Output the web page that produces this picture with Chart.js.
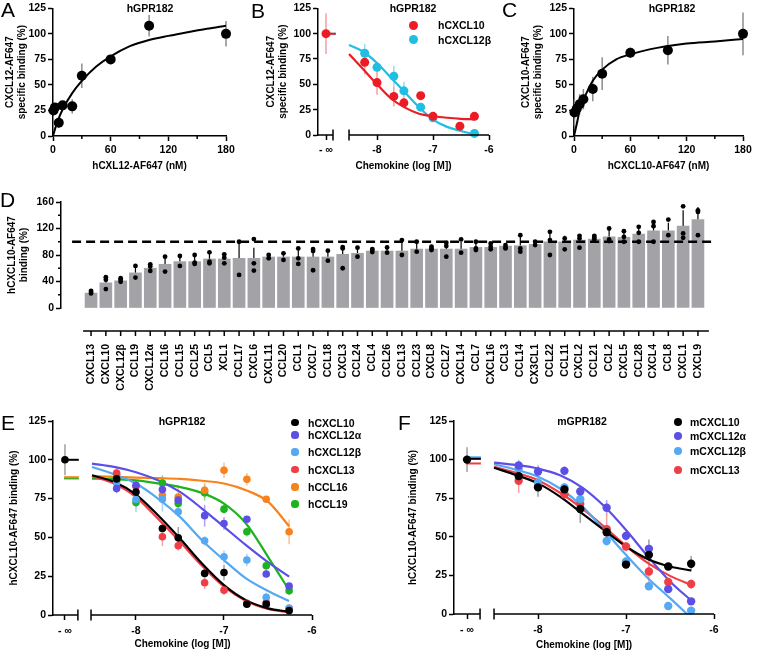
<!DOCTYPE html>
<html>
<head>
<meta charset="utf-8">
<title>GPR182 chemokine binding</title>
<script src="https://cdn.jsdelivr.net/npm/chart.js@4.4.1/dist/chart.umd.min.js"></script>
<style>
  html, body { margin: 0; padding: 0; background: #fff; }
  #fig { position: relative; width: 757px; height: 651px; overflow: hidden;
         font-family: "Liberation Sans", Arial, Helvetica, sans-serif; color: #000; }
  #fig canvas { position: absolute; left: 0; top: 0; }
  .t { position: absolute; font-weight: bold; line-height: 1.2; white-space: nowrap; }
  .letter { position: absolute; font-size: 21px; line-height: 21px; }
  .dot { position: absolute; border-radius: 50%; }
</style>
</head>
<body>
<div id="fig"></div>
<script>
// ---------- data ----------
// A: hCXCL12-AF647 saturation (nM vs % specific binding)
const aConc = [0.5, 2, 6, 10, 20, 30, 60, 100, 180];
const aBinding = [25, 28, 13, 30, 29, 59, 75, 108, 100];
const aSd = [3, 3, 5, 4, 7, 12, 4, 10.5, 12.5];
const aFitConc = [0, 2, 5, 10, 20, 30, 45, 60, 80, 100, 120, 140, 160, 180];
const aFitBinding = [0, 6.5, 15, 26, 42, 54, 68, 78, 88, 94, 98, 101.5, 105, 108];

// C: hCXCL10-AF647 saturation
const cConc = [0.5, 3, 6, 10, 20, 30, 60, 100, 180];
const cBinding = [23, 27, 31, 36, 46, 61, 81.5, 84, 100];
const cSd = [13, 8, 10, 10, 12, 16, 5, 14, 21];
const cFitConc = [0, 3, 6, 10, 20, 30, 45, 60, 90, 120, 150, 180];
const cFitBinding = [0, 12, 25, 35, 54, 65, 75, 80, 86.5, 90.5, 92.6, 95];

// shared competition concentrations (log M) and fit grid
const logConc = [-8.22, -8, -7.7, -7.52, -7.22, -7, -6.74, -6.52, -6.26];
const fitLog = [-8.5, -8.25, -8, -7.75, -7.5, -7.25, -7, -6.75, -6.5, -6.26];
const doseTickLabels = ['- \u221e', '-8', '-7', '-6'];
const doseTicks = [-8, -7, -6];

// B: competition of CXCL12-AF647
const bNames = ['hCXCL10', 'hCXCL12\u03b2'];
const bCxcl10 = [71.7, 51.7, 38.1, 31.7, 38.8, 18.4, null, 8.7, 18.4];
const bCxcl10Sd = [12, 12, 10, 3, 3, 3, 0, 3, 3];
const bCxcl12b = [80.7, 66.8, 58, 43.6, 27.5, 17, null, null, 1.6];
const bCxcl12bSd = [9, 5, 10, 9, 3, 3, 0, 0, 2];
const bFitCxcl10 = [80, 65, 50, 36, 27, 21, 18.5, 17, 16, 15.5];
const bFitCxcl12b = [88.8, 82.4, 71, 56.5, 42, 27.5, 15.2, 8, 3.9, 0.6];
const bInfLevel = [100, 100];
const bInfPoint = 100, bInfSd = 20;

// D: CXCL10-AF647 binding after chemokine panel
const dCategories = ['CXCL13','CXCL10','CXCL12\u03b2','CCL19','CXCL12\u03b1','CCL16','CCL15','CCL25','CCL5','XCL1',
  'CCL17','CXCL6','CXCL11','CCL20','CCL1','CXCL7','CCL18','CXCL3','CCL24','CCL4',
  'CCL26','CCL13','CCL23','CXCL8','CCL27','CXCL14','CCL7','CXCL16','CCL3','CCL14',
  'CX3CL1','CCL22','CCL11','CXCL2','CCL21','CCL2','CXCL5','CCL28','CXCL4','CCL8','CXCL1','CXCL9'];
const dMean = [22.5, 38, 41, 53, 60, 66, 70, 70, 74, 74, 75, 75, 77, 77, 77, 77, 77, 81, 82.5, 86,
  86, 86, 89, 89, 89, 89, 91.5, 91.5, 93.5, 94, 96, 100, 100, 102.5, 104, 107.5, 106.5, 111.5, 116.5, 116.5, 123.5, 133.5];
const dSd = [2, 8.5, 3, 10.5, 5, 11, 8, 7, 9, 6, 25, 16, 3, 5, 12, 13, 8, 14, 7, 2,
  5, 12, 8, 3, 11, 11, 6, 5, 2, 14, 3, 17, 9, 9, 3, 10, 8, 11, 15, 12, 24, 19];
const dReplicates = [
  [26, 24, 22], [46.5, 42.5, 28.5], [45, 42.5, 39.5], [63.5, 46], [66, 62.5, 56],
  [77.5, 55], [78.5, 63.5], [80, 68.5, 66.5], [84, 70, 67.5], [81, 76, 67.5],
  [100, 50], [104, 67.5, 56.5], [80, 75], [82.5, 72.5], [90, 75, 66.5],
  [89, 86, 57], [86.5, 71.5], [92, 90, 60], [91, 77.5], [89, 87.5, 84.5],
  [91.5, 83.5], [102.5, 80], [100, 85], [92.5, 90, 87.5], [98.5, 93.5, 77.5],
  [103.5, 83.5], [100, 90, 87.5], [97.5, 92.5, 88.5], [95, 91.5, 90], [110, 90, 85],
  [100, 95], [115, 102.5, 80], [105, 88.5], [109, 105, 91], [109, 106.5, 103.5],
  [120, 103.5, 101], [116, 107.5, 100], [122.5, 113.5, 100], [130, 123.5, 100], [133.5, 110],
  [153.5, 112.5, 106], [147.5, 145, 110]
];
const dReference = 100;

// E: hGPR182 competition
const eNames = ['hCXCL10', 'hCXCL12\u03b1', 'hCXCL12\u03b2', 'hCXCL13', 'hCCL16', 'hCCL19'];
const eCxcl10 = [87.7, 79.3, 55.7, 49.7, 26.8, 27.4, 7, 7, 2.8];
const eCxcl12a = [81.5, 83.6, 80.8, 74, 64, 59, 61.7, 26.4, 18.6];
const eCxcl12b = [85, 74.4, 74.6, 66.5, 47.8, 37.5, 35.4, 11.4, 4.3];
const eCxcl13 = [91.5, 83, 50.4, 44.6, 20.8, 16, 7.5, 8, 4.3];
const eCcl16 = [90.7, null, 77.2, 76, 80.4, 93.3, 87.5, 74.6, 53.6];
const eCcl19 = [86.8, 72.5, 85, 71.8, 78.7, 68.2, 53.6, 31.7, 15.7];
const eSd = [
  [3, 4, 4, 7, 4, 5, 2, 2, 2], [3, 3, 3, 3, 7, 4, 2, 2, 2], [3, 8, 8, 3, 3, 4, 4, 3, 2],
  [3, 3, 6, 3, 4, 3, 2, 2, 2], [5, 0, 5, 8, 5, 5, 4, 2, 8], [3, 3, 5, 3, 5, 3, 3, 3, 3]
];
const eFitCxcl10 = [90, 85.8, 77.6, 64.3, 49.3, 33.2, 19.3, 9.6, 4.3, 2.1];
const eFitCxcl12a = [97.5, 95.4, 92, 86.8, 79.3, 68.6, 56.8, 45, 34, 24.7];
const eFitCxcl12b = [95.4, 90.7, 84.7, 75, 63.2, 48.2, 35.4, 23.6, 15.5, 9];
const eFitCxcl13 = [89.4, 84.7, 76, 62, 47.2, 31.7, 18.2, 9, 3.9, 1.7];
const eFitCcl16 = [89.4, 89, 88.5, 88.2, 87.7, 86.5, 84.7, 80.4, 73, 57.2];
const eFitCcl19 = [87.9, 87.5, 86.8, 84.8, 82.5, 78.7, 71.8, 59, 37.5, 16];
const eInfLevel = [100, null, null, null, 88.8, 88];
const eInfPoint = 100, eInfSd = 10;

// F: mGPR182 competition
const fNames = ['mCXCL10', 'mCXCL12\u03b1', 'mCXCL12\u03b2', 'mCXCL13'];
const fCxcl10 = [89.3, 82, 80.7, 68, 52.9, 32, 38.3, 30.8, 32.5];
const fCxcl12a = [96.2, 92.3, 92.7, 79.4, 68.8, 50.6, 42.2, 16.1, 8.2];
const fCxcl12b = [94, 85, 82, 74.4, 47.3, 34, 18, 5.2, 2.2];
const fCxcl13 = [86.3, 82.8, 77.5, 71.2, 55, 43.7, 27.5, 20.7, 19.4];
const fSd = [
  [3, 6, 2, 9, 3, 2, 10, 2, 5], [3, 4, 3, 3, 5, 3, 3, 2, 2],
  [6, 3, 3, 5, 3, 3, 2, 2, 2], [8, 3, 3, 5, 10, 3, 8, 3, 3]
];
const fFitCxcl10 = [94.7, 90, 84.6, 76, 65.2, 54.4, 43.7, 35.5, 30.8, 28.2];
const fFitCxcl12a = [98.1, 96.5, 94.2, 89.9, 82, 69.9, 54.4, 37.2, 21.1, 8.8];
const fFitCxcl12b = [97, 93.5, 88.9, 81.3, 69.9, 54.4, 38.3, 23.2, 10.3, -2.5];
const fFitCxcl13 = [95.3, 91.5, 86.7, 78.5, 68.4, 56.6, 44.1, 32.9, 24.7, 18.9];
const fInfLevel = [100.5, null, 101.5, 97.5];
const fInfPoint = 100, fInfSd = 8;

// ---------- styling ----------
const W = 757, H = 651, AXIS_W = 1.5;
const eColors = ['#000000', '#5b4fe6', '#55a9f2', '#ef3e46', '#f8821c', '#1db31d'];
const eTints = ['#a0a0a0', '#aaa3f2', '#a9d3f8', '#f6a3a6', '#fbc28e', '#8ed68e'];
const fColors = ['#000000', '#5b4fe6', '#55a9f2', '#ef3e46'];
const fTints = ['#a0a0a0', '#aaa3f2', '#a9d3f8', '#f6a3a6'];
const bColors = ['#ed1c24', '#20bfe2'];
const bTints = ['#f49ea2', '#93dcef'];

// axis geometry in data units (broken log axes)
const bAxis = { min: -9.054, negInf: -8.911, breakL: -8.786, breakR: -8.5, max: -6, ext: 0.05 };
const eAxis = { min: -8.943, negInf: -8.807, breakL: -8.66, breakR: -8.511, max: -6, ext: 0.01 };
const fAxis = { min: -8.955, negInf: -8.807, breakL: -8.659, breakR: -8.5, max: -6, ext: 0.01 };
const dAxis = { min: -2.03, max: 41.95, lineStart: -0.54, lineEnd: 41.74, dashStart: -1.28 };

Chart.defaults.font.family = '"Liberation Sans", Arial, Helvetica, sans-serif';
Chart.defaults.font.weight = 'bold';
Chart.defaults.font.size = 10.5;
Chart.defaults.color = '#000';
Chart.defaults.animation = false;
Chart.defaults.responsive = false;
Chart.defaults.devicePixelRatio = 1;
Chart.defaults.plugins.legend.display = false;
Chart.defaults.plugins.tooltip.enabled = false;

const fig = document.getElementById('fig');
function makeCanvas() {
  const c = document.createElement('canvas');
  c.width = W; c.height = H;
  fig.appendChild(c);
  return c;
}

// vertical SD lines, drawn beneath the marks
const errorBars = {
  id: 'errorBars',
  beforeDatasetsDraw(chart) {
    const { ctx, scales: { x, y } } = chart;
    chart.data.datasets.forEach(ds => {
      if (!ds.sdColor) return;
      ctx.save();
      ctx.strokeStyle = ds.sdColor;
      ctx.lineWidth = ds.sdWidth || 1.5;
      ds.data.forEach(p => {
        if (!p.sd) return;
        const px = x.getPixelForValue(p.x);
        ctx.beginPath();
        ctx.moveTo(px, y.getPixelForValue(ds.sdUpOnly ? p.y : p.y - p.sd));
        ctx.lineTo(px, y.getPixelForValue(p.y + p.sd));
        ctx.stroke();
      });
      ctx.restore();
    });
  }
};

// Prism style extras: broken x axis, offset category axis, minor ticks
const prismAxes = {
  id: 'prismAxes',
  afterDraw(chart, args, o) {
    const { ctx, chartArea: a, scales: { x, y } } = chart;
    const line = (x0, y0, x1, y1) => { ctx.beginPath(); ctx.moveTo(x0, y0); ctx.lineTo(x1, y1); ctx.stroke(); };
    const yb = a.bottom + (o.xOffset || 0);
    ctx.save();
    ctx.strokeStyle = '#000';
    ctx.lineWidth = AXIS_W;
    (o.segments || []).forEach(([s, e]) => line(x.getPixelForValue(s), yb, x.getPixelForValue(e), yb));
    (o.breaks || []).forEach(v => { const px = x.getPixelForValue(v); line(px, yb - 5.5, px, yb + 5.5); });
    (o.ticks || []).forEach(v => { const px = x.getPixelForValue(v); line(px, yb, px, yb + 5); });
    (o.xMinor || []).forEach(v => { const px = x.getPixelForValue(v); line(px, a.bottom, px, a.bottom + 3); });
    (o.yMinor || []).forEach(v => { const py = y.getPixelForValue(v); line(a.left - 3, py, a.left, py); });
    ctx.restore();
  }
};

function pts(xs, ys, sds) {
  return xs.map((x, i) => ({ x, y: ys[i], sd: sds ? sds[i] : 0 })).filter(p => p.y != null);
}
function pointSet(xs, ys, sds, color, tint, r) {
  return { data: pts(xs, ys, sds), showLine: false, pointRadius: r, pointBackgroundColor: color,
    pointBorderWidth: 0, sdColor: tint, clip: false, order: 0 };
}
function curveSet(xs, ys, color, w) {
  return { data: pts(xs, ys), showLine: true, pointRadius: 0, borderColor: color, borderWidth: w,
    cubicInterpolationMode: 'monotone', order: 1 };
}
function infSet(axis, level, color) {
  return curveSet([axis.negInf - axis.ext, axis.breakL + axis.ext], [level, level], color, 2);
}

function padding(area, yW, xH) {
  return { left: area.l - yW, top: area.t, right: W - area.r, bottom: H - area.b - xH };
}
function yAxis(min, max, step, title, width) {
  return {
    type: 'linear', min, max,
    ticks: { stepSize: step, padding: 2 },
    grid: { drawOnChartArea: false, tickLength: 5, tickWidth: AXIS_W, tickColor: '#000' },
    border: { color: '#000', width: AXIS_W },
    title: { display: true, text: title, padding: 0, font: { size: 10, lineHeight: 1.2 } },
    afterFit: s => { s.width = width; }
  };
}
function xAxis({ min, max, step, ticks, labels, title, height, pad, border = true }) {
  const s = {
    type: 'linear', min, max,
    ticks: { padding: pad, autoSkip: false, maxRotation: 0 },
    grid: { drawOnChartArea: false, tickLength: 5, tickWidth: AXIS_W, tickColor: '#000' },
    border: { display: border, color: '#000', width: AXIS_W },
    title: { display: true, text: title, padding: 0, font: { size: 10, lineHeight: 1.2 } },
    afterFit: sc => { sc.height = height; }
  };
  if (step) s.ticks.stepSize = step;
  if (ticks) {
    s.afterBuildTicks = sc => { sc.ticks = ticks.map(v => ({ value: v })); };
    s.ticks.callback = (v, i) => labels[i];
  }
  return s;
}
function panel(area, yW, xH, datasets, x, y, prism) {
  new Chart(makeCanvas(), {
    type: 'scatter',
    data: { datasets },
    options: { layout: { padding: padding(area, yW, xH) }, scales: { x, y }, plugins: { prismAxes: prism } },
    plugins: [errorBars, prismAxes]
  });
}
function brokenX(axis, title, height, pad) {
  return xAxis({ min: axis.min, max: axis.max, ticks: [axis.negInf, ...doseTicks], labels: doseTickLabels,
    title, height, pad, border: false });
}
function brokenPrism(axis) {
  return { segments: [[axis.min, axis.breakL], [axis.breakR, axis.max]], breaks: [axis.breakL, axis.breakR] };
}

// ---------- A ----------
panel({ l: 53, t: 7, r: 226, b: 136 }, 49, 36,
  [pointSet(aConc, aBinding, aSd, '#000', '#8c8c8c', 5), curveSet(aFitConc, aFitBinding, '#000', 2)],
  xAxis({ min: 0, max: 180, step: 60, title: 'hCXL12-AF647 (nM)', height: 36, pad: 3 }),
  yAxis(0, 125, 25, ['CXCL12-AF647', 'specific binding (%)'], 49),
  { xMinor: [30, 90, 150] });

// ---------- B ----------
panel({ l: 318, t: 7, r: 489, b: 135 }, 53, 37,
  [pointSet([bAxis.negInf], [bInfPoint], [bInfSd], bColors[0], bTints[0], 4.5),
   pointSet(logConc, bCxcl10, bCxcl10Sd, bColors[0], bTints[0], 4.5),
   pointSet(logConc, bCxcl12b, bCxcl12bSd, bColors[1], bTints[1], 4.5),
   infSet(bAxis, bInfLevel[0], bColors[0]), infSet(bAxis, bInfLevel[1], bColors[1]),
   curveSet(fitLog, bFitCxcl10, bColors[0], 2.2), curveSet(fitLog, bFitCxcl12b, bColors[1], 2.2)],
  brokenX(bAxis, 'Chemokine (log [M])', 37, 4),
  yAxis(0, 125, 25, ['CXCL12-AF647', 'specific binding (%)'], 53),
  brokenPrism(bAxis));

// ---------- C ----------
panel({ l: 574, t: 7, r: 743, b: 136 }, 54, 36,
  [pointSet(cConc, cBinding, cSd, '#000', '#8c8c8c', 5), curveSet(cFitConc, cFitBinding, '#000', 2)],
  xAxis({ min: 0, max: 180, step: 60, title: 'hCXCL10-AF647 (nM)', height: 36, pad: 3 }),
  yAxis(0, 125, 25, ['CXCL10-AF647', 'specific binding (%)'], 54),
  { xMinor: [30, 90, 150] });

// ---------- D ----------
const dArea = { l: 61, t: 202, r: 712, b: 308 };
new Chart(makeCanvas(), {
  type: 'bar',
  data: {
    datasets: [
      { type: 'line', data: dReplicates.flatMap((reps, i) => reps.map(v => ({ x: i, y: v }))),
        showLine: false, pointRadius: 2.4, pointBackgroundColor: '#000', pointBorderWidth: 0, clip: false, order: 0 },
      { type: 'line', data: [{ x: dAxis.dashStart, y: dReference }, { x: dAxis.max, y: dReference }],
        borderColor: '#000', borderWidth: 2.5, borderDash: [9, 5], pointRadius: 0, order: 1 },
      { type: 'bar', data: dMean.map((v, i) => ({ x: i, y: v, sd: dSd[i] })), backgroundColor: '#a3a3a7',
        barThickness: 12, sdColor: '#000', sdWidth: 1.2, sdUpOnly: true, order: 2 }
    ]
  },
  options: {
    layout: { padding: padding(dArea, 54.3, 100) },
    scales: {
      x: { type: 'linear', min: dAxis.min, max: dAxis.max, offset: false,
        afterBuildTicks: s => { s.ticks = dCategories.map((_, i) => ({ value: i })); },
        ticks: { callback: (v, i) => dCategories[i], autoSkip: false, minRotation: 90, maxRotation: 90, padding: 36 },
        grid: { display: false, drawTicks: false }, border: { display: false },
        afterFit: s => { s.height = 100; } },
      y: yAxis(0, 160, 40, ['hCXCL10-AF647', 'binding (%)'], 54.3)
    },
    plugins: { prismAxes: { xOffset: 23, segments: [[dAxis.lineStart, dAxis.lineEnd]],
      ticks: dCategories.map((_, i) => i), yMinor: [20, 60, 100, 140] } }
  },
  plugins: [errorBars, prismAxes]
});

// ---------- E ----------
const eValues = [eCxcl10, eCxcl12a, eCxcl12b, eCxcl13, eCcl16, eCcl19];
const eFits = [eFitCxcl10, eFitCxcl12a, eFitCxcl12b, eFitCxcl13, eFitCcl16, eFitCcl19];
const eSets = [pointSet([eAxis.negInf], [eInfPoint], [eInfSd], eColors[0], eTints[0], 3.8)];
eValues.forEach((v, i) => eSets.push(pointSet(logConc, v, eSd[i], eColors[i], eTints[i], 3.8)));
eFits.forEach((v, i) => eSets.push(curveSet(fitLog, v, eColors[i], 2.2)));
eInfLevel.forEach((v, i) => { if (v != null) eSets.push(infSet(eAxis, v, eColors[i])); });
panel({ l: 53, t: 421, r: 312, b: 615 }, 45, 35, eSets,
  brokenX(eAxis, 'Chemokine (log [M])', 35, 5),
  yAxis(0, 125, 25, 'hCXCL10-AF647 binding (%)', 45),
  brokenPrism(eAxis));

// ---------- F ----------
const fValues = [fCxcl10, fCxcl12a, fCxcl12b, fCxcl13];
const fFits = [fFitCxcl10, fFitCxcl12a, fFitCxcl12b, fFitCxcl13];
const fSets = [pointSet([fAxis.negInf], [fInfPoint], [fInfSd], fColors[0], fTints[0], 4.2)];
fValues.forEach((v, i) => fSets.push(pointSet(logConc, v, fSd[i], fColors[i], fTints[i], 4.2)));
fFits.forEach((v, i) => fSets.push(curveSet(fitLog, v, fColors[i], 2.2)));
fInfLevel.forEach((v, i) => { if (v != null) fSets.push(infSet(fAxis, v, fColors[i])); });
panel({ l: 454, t: 421, r: 714, b: 614 }, 47, 37, fSets,
  brokenX(fAxis, 'Chemokine (log [M])', 37, 5),
  yAxis(0, 125, 25, 'hCXCL10-AF647 binding (%)', 47),
  brokenPrism(fAxis));

// ---------- text overlays ----------
function text(str, x, y, size, left) {
  const d = document.createElement('div');
  d.className = 't';
  d.textContent = str;
  d.style.fontSize = size + 'px';
  d.style.left = x + 'px';
  d.style.top = y + 'px';
  d.style.transform = left ? 'translate(0,-50%)' : 'translate(-50%,-50%)';
  fig.appendChild(d);
}
function letter(ch, x, y) {
  const d = document.createElement('div');
  d.className = 'letter';
  d.textContent = ch;
  d.style.left = x + 'px';
  d.style.top = y + 'px';
  fig.appendChild(d);
}
function legend(names, colors, dotX, textX, ys, r, size) {
  names.forEach((n, i) => {
    const d = document.createElement('div');
    d.className = 'dot';
    d.style.cssText = `left:${dotX - r}px;top:${ys[i] - r}px;width:${2 * r}px;height:${2 * r}px;background:${colors[i]}`;
    fig.appendChild(d);
    text(n, textX, ys[i], size, true);
  });
}

letter('A', 1, -1); letter('B', 251, 0); letter('C', 502, -1);
letter('D', 0, 189); letter('E', 1, 412); letter('F', 398, 412);
text('hGPR182', 150, 8, 10.5); text('hGPR182', 413, 8, 10.5); text('hGPR182', 672, 8, 10.5);
text('hGPR182', 182, 421, 10.5); text('mGPR182', 582, 421, 10.5);
legend(bNames, bColors, 413, 438, [25, 39.5], 4.5, 10.5);
legend(eNames, eColors, 295, 308, [422.5, 435, 452, 469.5, 487, 504], 3.6, 10.5);
legend(fNames, fColors, 678, 690, [422, 435.5, 451, 469.5], 4, 10.5);
</script>
</body>
</html>
